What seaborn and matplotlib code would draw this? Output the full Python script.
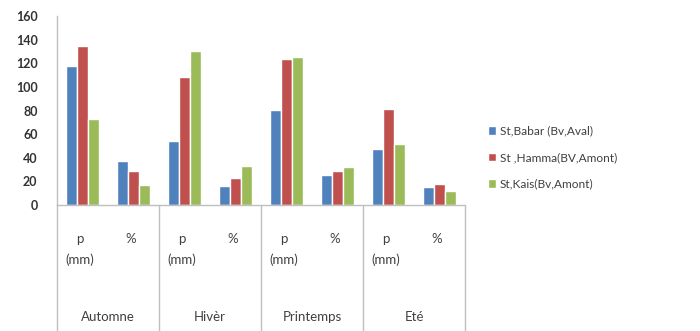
import matplotlib
matplotlib.use("Agg")
import matplotlib.pyplot as plt
import matplotlib.transforms as mtransforms
import seaborn as sns
import pandas as pd

seasons = ["Automne", "Hivèr", "Printemps", "Eté"]
measures = ["p\n(mm)", "%"]
stations = ["St,Babar (Bv,Aval)", "St ,Hamma(BV,Amont)", "St,Kais(Bv,Amont)"]

babar = [118, 37, 54, 16, 80, 25, 47, 15]
hamma = [135, 29, 108, 23, 124, 29, 81, 18]
kais = [73, 17, 130, 33, 125, 32, 52, 12]

colors = ["#4F81BD", "#C0504D", "#9BBB59"]

positions = [f"{s}|{m}" for s in seasons for m in measures]
rows = []
for name, vals in zip(stations, [babar, hamma, kais]):
    for pos, v in zip(positions, vals):
        rows.append({"pos": pos, "station": name, "value": v})
df = pd.DataFrame(rows)

sns.set_style("white")
plt.rcParams["font.family"] = ["Lato", "DejaVu Sans"]

fig = plt.figure(figsize=(7.0, 3.31), dpi=100)
ax = fig.add_axes([57 / 700, (331 - 205) / 331, (465 - 57) / 700, (205 - 16) / 331])

sns.barplot(data=df, x="pos", y="value", hue="station", order=positions,
            hue_order=stations, palette=colors, width=0.66, gap=0,
            saturation=1, ax=ax, legend=True)

ax.set_ylim(0, 160)
ax.set_yticks(range(0, 161, 20))
ax.tick_params(axis="y", length=0, labelsize=9, colors="#333333", pad=14)
for lbl in ax.get_yticklabels():
    lbl.set_fontweight("bold")
ax.set_xlim(-0.5, len(positions) - 0.5)
ax.set_xticks([])
ax.set_xlabel("")
ax.set_ylabel("")

for side in ["top", "right"]:
    ax.spines[side].set_visible(False)
for side in ["left", "bottom"]:
    ax.spines[side].set_color("#BFBFBF")
    ax.spines[side].set_linewidth(1)

# Multi-level category axis: separators and labels below the plot
trans = mtransforms.blended_transform_factory(ax.transData, ax.transAxes)
for b in range(len(seasons) + 1):
    xb = b * 2 - 0.5
    ax.plot([xb, xb], [0, -0.7], transform=trans, color="#BFBFBF",
            lw=1, clip_on=False)
for i, pos in enumerate(positions):
    m = pos.split("|")[1]
    ax.text(i - 0.05, -0.15, m, transform=trans, ha="center", va="top",
            fontsize=9.5, color="#404040", linespacing=1.8)
for j, s in enumerate(seasons):
    ax.text(j * 2 + 0.5, -0.595, s, transform=trans, ha="center",
            va="center", fontsize=9.5, color="#404040")

leg = ax.legend(loc="center left", bbox_to_anchor=(1.03, 0.25),
                frameon=False, fontsize=8.6, handlelength=0.7,
                handleheight=0.7, handletextpad=0.3, labelspacing=1.3)
for t in leg.get_texts():
    t.set_color("#404040")

fig.savefig("out.png", dpi=100)
